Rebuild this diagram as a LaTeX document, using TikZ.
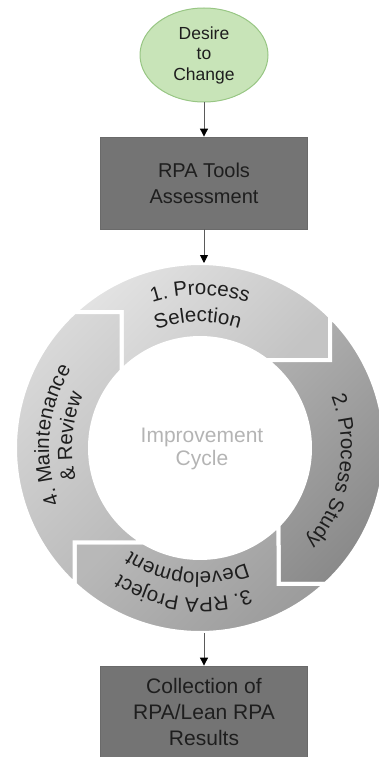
\documentclass[tikz,border=0pt]{standalone}
\usepackage{fontspec}
\setmainfont{Liberation Sans}
\usetikzlibrary{arrows.meta,decorations.text,shapes.geometric,calc}

\definecolor{startfill}{HTML}{C8E4B8}
\definecolor{startline}{HTML}{98C684}
\definecolor{boxfill}{HTML}{747474}
\definecolor{boxline}{HTML}{6A6A6A}
\definecolor{ink}{HTML}{1E1E1E}
\definecolor{centretext}{HTML}{B4B4B4}
\definecolor{linkline}{HTML}{5A5A5A}
\definecolor{segAhi}{HTML}{E4E4E4}\definecolor{segAlo}{HTML}{C4C4C4}
\definecolor{segBhi}{HTML}{AEAEAE}\definecolor{segBlo}{HTML}{888888}
\definecolor{segChi}{HTML}{B8B8B8}\definecolor{segClo}{HTML}{9A9A9A}
\definecolor{segDhi}{HTML}{DADADA}\definecolor{segDlo}{HTML}{BABABA}

\newcommand\ringfont{\fontsize{20.5}{24}\selectfont}

\begin{document}
\begin{tikzpicture}[x=1pt,y=1pt,
  startnode/.style={ellipse, draw=startline, line width=1pt, fill=startfill,
    minimum width=128pt, minimum height=94pt, inner sep=0pt, align=center,
    text=ink, font=\fontsize{17.5}{20.5}\selectfont},
  stagebox/.style={rectangle, draw=boxline, line width=0.8pt, fill=boxfill,
    minimum width=207pt, inner sep=0pt, align=center, text=ink,
    font=\fontsize{20}{26}\selectfont},
  link/.style={draw=linkline, line width=0.9pt,
    -{Triangle[length=8pt,width=8pt,color=black]}},
  segment/.style 2 args={top color=#1, bottom color=#2, shading angle=45,
    draw=white, line width=4pt, line join=miter},
  ringlabel/.style={decorate, decoration={text along path, text align=center,
    text color=ink, text={#1}}}
]
\useasboundingbox (0,0) rectangle (379,-757);

% ring geometry: outer / inner radius, radius of the joint corners
\pgfmathsetmacro{\R}{185}
\pgfmathsetmacro{\r}{110}
\pgfmathsetmacro{\rc}{157}
\pgfmathsetmacro{\cxA}{\rc*cos(120)}\pgfmathsetmacro{\cyA}{\rc*sin(120)}
\pgfmathsetmacro{\cxB}{\rc*cos(34)}\pgfmathsetmacro{\cyB}{\rc*sin(34)}
\pgfmathsetmacro{\cxC}{\rc*cos(-60)}\pgfmathsetmacro{\cyC}{\rc*sin(-60)}
\pgfmathsetmacro{\cxD}{\rc*cos(-143)}\pgfmathsetmacro{\cyD}{\rc*sin(-143)}
% angles where the joint legs meet the outer (o) and inner (i) circles
\pgfmathsetmacro{\oA}{180-asin(\cyA/\R)}
\pgfmathsetmacro{\iA}{acos(\cxA/\r)}
\pgfmathsetmacro{\oB}{acos(\cxB/\R)}
\pgfmathsetmacro{\iB}{asin(\cyB/\r)}
\pgfmathsetmacro{\oC}{asin(\cyC/\R)}
\pgfmathsetmacro{\iC}{-acos(\cxC/\r)}
\pgfmathsetmacro{\oD}{-acos(\cxD/\R)}
\pgfmathsetmacro{\iD}{-180-asin(\cyD/\r)}
\pgfmathsetmacro{\iAw}{\iA-360}
\pgfmathsetmacro{\oAw}{\oA-360}

\begin{scope}[shift={(200,-448)}]
  \coordinate (cA) at (\cxA,\cyA);
  \coordinate (cB) at (\cxB,\cyB);
  \coordinate (cC) at (\cxC,\cyC);
  \coordinate (cD) at (\cxD,\cyD);
  % 1. process selection
  \path[segment={segAhi}{segAlo}]
    (\oA:\R) -- (cA) -- (\iA:\r) arc[start angle=\iA, end angle=\iB, radius=\r]
    -- (cB) -- (\oB:\R) arc[start angle=\oB, end angle=\oA, radius=\R] -- cycle;
  % 2. process study
  \path[segment={segBhi}{segBlo}]
    (\oB:\R) -- (cB) -- (\iB:\r) arc[start angle=\iB, end angle=\iC, radius=\r]
    -- (cC) -- (\oC:\R) arc[start angle=\oC, end angle=\oB, radius=\R] -- cycle;
  % 3. project development
  \path[segment={segChi}{segClo}]
    (\oC:\R) -- (cC) -- (\iC:\r) arc[start angle=\iC, end angle=\iD, radius=\r]
    -- (cD) -- (\oD:\R) arc[start angle=\oD, end angle=\oC, radius=\R] -- cycle;
  % 4. maintenance and review
  \path[segment={segDhi}{segDlo}]
    (\oD:\R) -- (cD) -- (\iD:\r) arc[start angle=\iD, end angle=\iAw, radius=\r]
    -- (cA) -- (\oA:\R) arc[start angle=\oAw, end angle=\oD, radius=\R] -- cycle;

  % stage labels running clockwise round the ring
  \path[ringlabel={|\ringfont|1. Process}] (140:153) arc[start angle=140, end angle=40, radius=153];
  \path[ringlabel={|\ringfont|Selection}] (141:126) arc[start angle=141, end angle=41, radius=126];
  \path[ringlabel={|\ringfont|2. Process Study}] (45:141) arc[start angle=45, end angle=-65, radius=141];
  \path[ringlabel={|\ringfont|3. RPA Project}] (-46.5:150) arc[start angle=-46.5, end angle=-146.5, radius=150];
  \path[ringlabel={|\ringfont|Development}] (-46:124) arc[start angle=-46, end angle=-146, radius=124];
  \path[ringlabel={|\ringfont|4. Maintenance}] (230:151) arc[start angle=230, end angle=120, radius=151];
  \path[ringlabel={|\ringfont|{\&} Review}] (230:128) arc[start angle=230, end angle=120, radius=128];
\end{scope}

\node[font=\fontsize{21}{23}\selectfont, text=centretext, align=center]
  (hub) at (202,-449) {Improvement\\Cycle};

\node[startnode] (desire) at (204,-55) {Desire\\to\\Change};
\node[stagebox, minimum height=92pt] (tools) at (204,-183) {RPA Tools\\Assessment};
\node[stagebox, minimum height=91pt, font=\fontsize{21}{26}\selectfont]
  (results) at (204,-711.5) {Collection of\\RPA/Lean RPA\\Results};

\coordinate (ringtop) at (204,-263);
\coordinate (ringbot) at (204,-633);

\draw[link] (desire.south) -- (tools.north);
\draw[link] (tools.south) -- (ringtop);
\draw[link] (ringbot) -- (results.north);
\end{tikzpicture}
\end{document}
